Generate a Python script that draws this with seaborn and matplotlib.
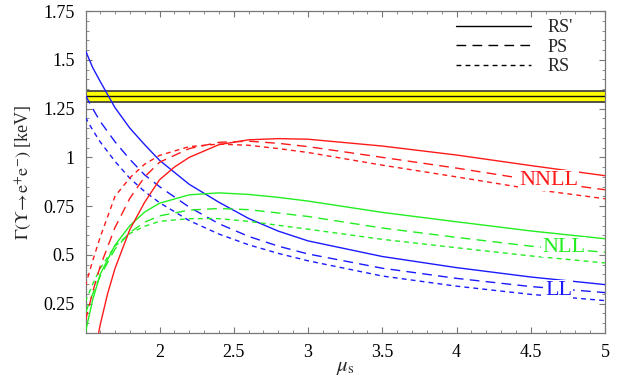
import matplotlib
matplotlib.use('Agg')
import matplotlib.pyplot as plt
from matplotlib.lines import Line2D
from matplotlib.ticker import MultipleLocator
import pandas as pd
import seaborn as sns

# Valores (mu_s, Gamma en keV)
mu_grid = [1.5, 1.55, 1.6, 1.7, 1.8, 1.9, 2.0, 2.2, 2.4, 2.6, 2.8, 3.0, 3.5, 4.0, 4.5, 5.0]
mu_red_rsp = [1.59, 1.6, 1.65, 1.7, 1.8, 1.9, 2.0, 2.1, 2.2, 2.4, 2.6, 2.8, 3.0, 3.5, 4.0, 4.5, 5.0]

ll_rsp = [1.55, 1.46, 1.39, 1.255, 1.15, 1.065, 0.985, 0.862, 0.77, 0.687, 0.622, 0.572, 0.492, 0.435, 0.387, 0.348]
ll_ps = [1.32, 1.25, 1.185, 1.08, 0.99, 0.91, 0.85, 0.745, 0.66, 0.595, 0.545, 0.505, 0.432, 0.38, 0.338, 0.307]
ll_rs = [1.206, 1.14, 1.08, 0.98, 0.893, 0.825, 0.768, 0.676, 0.607, 0.552, 0.508, 0.47, 0.392, 0.34, 0.298, 0.266]

nll_rsp = [0.10, 0.27, 0.40, 0.55, 0.65, 0.72, 0.765, 0.808, 0.818, 0.81, 0.795, 0.776, 0.718, 0.67, 0.623, 0.583]
nll_ps = [0.20, 0.30, 0.39, 0.53, 0.615, 0.668, 0.70, 0.73, 0.738, 0.732, 0.715, 0.697, 0.638, 0.59, 0.545, 0.514]
nll_rs = [0.26, 0.35, 0.43, 0.545, 0.61, 0.647, 0.672, 0.686, 0.686, 0.672, 0.652, 0.632, 0.58, 0.537, 0.495, 0.459]

nnll_rsp = [0.10, 0.14, 0.30, 0.43, 0.63, 0.77, 0.885, 0.95, 1.0, 1.065, 1.09, 1.096, 1.093, 1.058, 1.012, 0.958, 0.906]
nnll_ps = [0.16, 0.31, 0.44, 0.64, 0.79, 0.90, 0.975, 1.045, 1.077, 1.083, 1.072, 1.055, 1.0, 0.945, 0.885, 0.834]
nnll_rs = [0.34, 0.47, 0.59, 0.80, 0.895, 0.965, 1.01, 1.055, 1.068, 1.062, 1.045, 1.025, 0.96, 0.90, 0.838, 0.788]

# Valor experimental (banda)
band_center = 1.312
band_err = 0.028

schemes = ["RS'", "PS", "RS"]
orders = ["LL", "NLL", "NNLL"]
x_ticks = [2, 2.5, 3, 3.5, 4, 4.5, 5]
x_tick_labels = ['2', '2.5', '3', '3.5', '4', '4.5', '5']
y_ticks = [0.25, 0.5, 0.75, 1.0, 1.25, 1.5, 1.75]
y_tick_labels = ['0.25', '0.5', '0.75', '1', '1.25', '1.5', '1.75']

curvas = [
    ("LL", "RS'", mu_grid, ll_rsp), ("LL", "PS", mu_grid, ll_ps), ("LL", "RS", mu_grid, ll_rs),
    ("NLL", "RS'", mu_grid, nll_rsp), ("NLL", "PS", mu_grid, nll_ps), ("NLL", "RS", mu_grid, nll_rs),
    ("NNLL", "RS'", mu_red_rsp, nnll_rsp), ("NNLL", "PS", mu_grid, nnll_ps), ("NNLL", "RS", mu_grid, nnll_rs),
]
filas = []
for orden, esquema, xs, ys in curvas:
    for x, y in zip(xs, ys):
        filas.append({'mu': x, 'gamma': y, 'orden': orden, 'esquema': esquema})
df = pd.DataFrame(filas)

sns.set_style('ticks')
plt.rcParams['font.family'] = ['Liberation Serif', 'DejaVu Serif']
plt.rcParams['mathtext.fontset'] = 'stix'

colores = {'LL': '#1a1aff', 'NLL': '#22ee22', 'NNLL': '#ff1a1a'}
trazos = {"RS'": '', 'PS': (7, 4.5), 'RS': (3.5, 3)}

fig = plt.figure(figsize=(6.22, 3.85), dpi=100)
ax = fig.add_axes([86 / 622, 1 - 333 / 385, 519 / 622, 322 / 385])

ax.axhspan(band_center - band_err, band_center + band_err, color='#ffff00', zorder=1, lw=0)
for yy, c, w in [(band_center - band_err, '#444444', 1.3), (band_center + band_err, '#444444', 1.3),
                 (band_center, '#111111', 1.0)]:
    ax.axhline(yy, color=c, lw=w, zorder=2)

sns.lineplot(data=df, x='mu', y='gamma', hue='orden', style='esquema',
             palette=colores, dashes=trazos, estimator=None, sort=False,
             legend=False, lw=1.0, ax=ax, zorder=3)

ax.set_xlim(1.505, 5)
ax.set_ylim(0.1, 1.75)
ax.set_xticks(x_ticks)
ax.set_xticklabels(x_tick_labels)
ax.set_yticks(y_ticks)
ax.set_yticklabels(y_tick_labels)
ax.xaxis.set_minor_locator(MultipleLocator(0.1))
ax.yaxis.set_minor_locator(MultipleLocator(0.05))
ax.tick_params(which='both', direction='in', top=True, right=True, colors='#777777',
               labelcolor='black', labelsize=13)
ax.tick_params(which='major', length=4, width=0.8)
ax.tick_params(which='minor', length=2.3, width=0.6)
ax.tick_params(axis='x', pad=8)
ax.tick_params(axis='y', pad=8)
for s in ax.spines.values():
    s.set_color('#777777')
    s.set_linewidth(0.9)

ax.set_xlabel(r'$\mu_{\mathrm{s}}$', fontsize=15, labelpad=-2)
ax.set_ylabel(r'$\Gamma(\Upsilon\!\rightarrow\!\mathrm{e}^{+}\mathrm{e}^{-})$ [keV]', fontsize=13, labelpad=7)

# Etiquetas de las curvas
for texto, x, y, orden in [('NNLL', 4.62, 0.882, 'NNLL'), ('NLL', 4.72, 0.539, 'NLL'), ('LL', 4.69, 0.317, 'LL')]:
    ax.text(x, y, texto, color=colores[orden], fontsize=16, ha='center', va='center', zorder=4,
            bbox=dict(facecolor='white', edgecolor='none', pad=0.5))

handles = [Line2D([], [], color='black', lw=1.0)]
handles += [Line2D([], [], color='black', lw=1.0, dashes=trazos[e]) for e in schemes[1:]]
ax.legend(handles, schemes, loc='upper left', bbox_to_anchor=(0.712, 0.975), frameon=False,
          fontsize=13, handlelength=4.2, handletextpad=0.9, labelspacing=0.15,
          borderpad=0, borderaxespad=0)

fig.savefig('out.png', dpi=100)
